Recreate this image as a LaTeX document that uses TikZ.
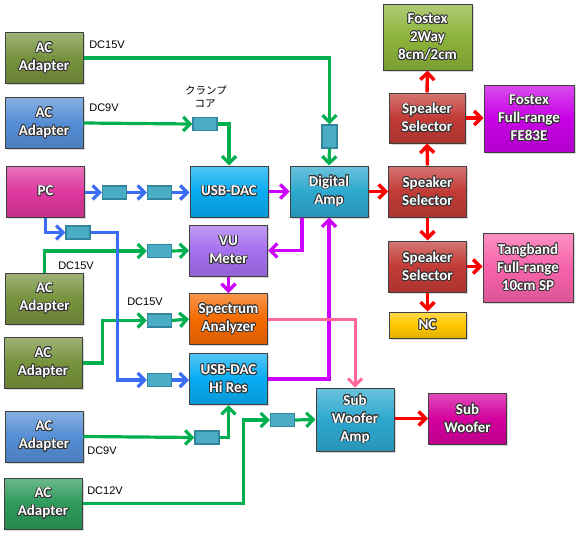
\documentclass[tikz,border=0pt]{standalone}
\usepackage{fontspec}
\setsansfont{Carlito}
\newfontfamily\labfont{Liberation Sans}
\newfontfamily\jpfont{Noto Sans CJK JP}
\usepackage{contour}
\contourlength{0.75pt}
\usetikzlibrary{arrows.meta,shadows}
\definecolor{colive}{HTML}{76923C}
\definecolor{colivel}{HTML}{8CB33A}
\definecolor{cblueac}{HTML}{558ED5}
\definecolor{cgreenac}{HTML}{2E9A5A}
\definecolor{cpc}{HTML}{DD389E}
\definecolor{cusb}{HTML}{08ACF2}
\definecolor{cdamp}{HTML}{2DA8CF}
\definecolor{cvu}{HTML}{A570EE}
\definecolor{cspec}{HTML}{F56A00}
\definecolor{csel}{HTML}{C23B36}
\definecolor{cfe}{HTML}{C800E6}
\definecolor{ctang}{HTML}{F862AA}
\definecolor{cnc}{HTML}{FFC800}
\definecolor{csw}{HTML}{D4009E}
\definecolor{ccore}{HTML}{4BACC6}
\definecolor{ccoreb}{HTML}{31859C}
\definecolor{lgreen}{HTML}{00B050}
\definecolor{lblue}{HTML}{3A6CF4}
\definecolor{lpurple}{HTML}{CC00FF}
\definecolor{lred}{HTML}{FF0000}
\definecolor{lpink}{HTML}{FF6699}
\newcommand\ot[1]{\contour{black!80}{\textcolor{white}{#1}}}
\begin{document}
\begin{tikzpicture}[x=1pt,y=-1pt,
  box/.style={draw=black!75, line width=1pt, top color=#1!70!white, bottom color=#1!88!black, middle color=#1,
    drop shadow={shadow xshift=1.5pt, shadow yshift=-1.5pt, opacity=0.3},
    inner sep=0pt, align=center, font=\sffamily\bfseries\fontsize{15}{18}\selectfont},
  std/.style={minimum width=78pt, minimum height=51pt},
  core/.style={draw=ccoreb, fill=ccore, line width=1.2pt, minimum width=24pt, minimum height=13pt, inner sep=0pt},
  tip/.style={-{Straight Barb[length=7pt,width=14pt]}},
  gl/.style={draw=lgreen, line width=3.2pt, tip},
  bl/.style={draw=lblue, line width=3.2pt, tip},
  pl/.style={draw=lpurple, line width=3.2pt, tip},
  rl/.style={draw=lred, line width=3.4pt, tip},
  kl/.style={draw=lpink, line width=3pt, tip},
  lab/.style={font=\labfont\fontsize{11}{12}\selectfont, inner sep=0pt},
  jlab/.style={font=\jpfont\fontsize{10.5}{12}\selectfont, inner sep=0pt}]
\useasboundingbox[fill=white] (0,0) rectangle (580,535);
% boxes
\node[box=colive, std] (ac1) at (44,58) {\ot{AC}\\\ot{Adapter}};
\node[box=cblueac, std] (ac2) at (44,123) {\ot{AC}\\\ot{Adapter}};
\node[box=cpc, std] (pc) at (45.5,191.5) {\ot{PC}};
\node[box=colive, std] (ac3) at (44.5,298.5) {\ot{AC}\\\ot{Adapter}};
\node[box=colive, std] (ac4) at (43,363) {\ot{AC}\\\ot{Adapter}};
\node[box=cblueac, std] (ac5) at (44,436.5) {\ot{AC}\\\ot{Adapter}};
\node[box=cgreenac, std] (ac6) at (43,503.5) {\ot{AC}\\\ot{Adapter}};
\node[box=cusb, std] (usb) at (229,191.5) {\ot{USB-DAC}};
\node[box=cvu, std] (vu) at (228.5,250.5) {\ot{VU}\\\ot{Meter}};
\node[box=cspec, std] (spec) at (228.5,319) {\ot{Spectrum}\\\ot{Analyzer}};
\node[box=cusb, std] (hires) at (228.5,379) {\ot{USB-DAC}\\\ot{Hi Res}};
\node[box=cdamp, std] (damp) at (329,191.5) {\ot{Digital}\\\ot{Amp}};
\node[box=cdamp, minimum width=78pt, minimum height=63pt] (swamp) at (355,419.5) {\ot{Sub}\\\ot{Woofer}\\\ot{Amp}};
\node[box=csw, std] (sw) at (467.5,418.5) {\ot{Sub}\\\ot{Woofer}};
\node[box=csel, minimum width=76pt, minimum height=50pt] (sel1) at (427,118) {\ot{Speaker}\\\ot{Selector}};
\node[box=csel, std] (sel2) at (427.5,191.5) {\ot{Speaker}\\\ot{Selector}};
\node[box=csel, std] (sel3) at (427.5,266.5) {\ot{Speaker}\\\ot{Selector}};
\node[box=colivel, minimum width=89pt, minimum height=65pt] (f2) at (427.5,37.5) {\ot{Fostex}\\\ot{2Way}\\\ot{8cm/2cm}};
\node[box=cfe, minimum width=90pt, minimum height=67pt] (fe) at (529,118.5) {\ot{Fostex}\\\ot{Full-range}\\\ot{FE83E}};
\node[box=ctang, minimum width=90pt, minimum height=69pt] (tang) at (528,267.5) {\ot{Tangband}\\\ot{Full-range}\\\ot{10cm SP}};
\node[box=cnc, minimum width=77pt, minimum height=26pt] (nc) at (427.5,325) {\ot{NC}};
% cores
\node[core, minimum width=15pt, minimum height=23pt] (k1) at (329.5,136.5) {};
\node[core] (k2) at (205,124) {};
\node[core] (k3) at (114.5,192.5) {};
\node[core] (k4) at (159.5,192.5) {};
\node[core] (k5) at (78,232.5) {};
\node[core] (k6) at (159.5,251) {};
\node[core] (k7) at (159.5,320.5) {};
\node[core] (k8) at (159.5,380) {};
\node[core] (k9) at (207,437.5) {};
\node[core] (k10) at (282.5,420) {};
% labels
\node[lab] (l1) at (107,45) {DC15V};
\node[lab] (l2) at (104,108) {DC9V};
\node[jlab] (l3) at (206,90) {クランプ};
\node[jlab] (l4) at (205,104) {コア};
\node[lab] (l5) at (76,266) {DC15V};
\node[lab] (l6) at (145,302) {DC15V};
\node[lab] (l7) at (102,451) {DC9V};
\node[lab] (l8) at (105,490.5) {DC12V};
% green power lines
\draw[gl] (ac1.east) -| (k1.north);
\draw[gl] (k1.south) -- (damp.north);
\draw[gl] (ac2.east) -- (k2.west);
\draw[gl] (k2.east) -| (usb.north);
\draw[gl] (ac3.north) |- (k6.west);
\draw[gl] (k6.east) -- (vu.west);
\draw[gl] (ac4.east) -- ++(20,0) |- (k7.west);
\draw[gl] (k7.east) -- (spec.west);
\draw[gl] (ac5.east) -- (k9.west);
\draw[gl] (k9.east) -| (hires.south);
\draw[gl] (ac6.east) -- ++(161,0) |- (k10.west);
\draw[gl] (k10.east) -- (swamp.west);
% blue USB lines
\draw[bl] (pc.east |- k3.west) -- (k3.west);
\draw[bl] (k3.east) -- (k4.west);
\draw[bl] (k4.east) -- (usb.west |- k4.east);
\draw[bl] (pc.south) |- (k5.west);
\draw[bl] (k5.east) -- ++(27,0) |- (k8.west);
\draw[bl] (k8.east) -- (hires.west |- k8.east);
% purple audio
\draw[pl] (usb.east) -- (damp.west);
\draw[pl] ([xshift=-27pt]damp.south) |- (vu.east);
\draw[pl] (vu.south) -- (spec.north);
\draw[pl] (hires.east) -| (damp.south);
% pink
\draw[kl] (spec.east) -| (swamp.north);
% red speaker lines
\draw[rl] (damp.east) -- (sel2.west);
\draw[rl] (sel2.north) -- (sel1.south);
\draw[rl] (sel1.north) -- (f2.south);
\draw[rl] (sel1.east) -- (fe.west |- sel1.east);
\draw[rl] (sel2.south) -- (sel3.north);
\draw[rl] (sel3.east) -- (tang.west |- sel3.east);
\draw[rl] (sel3.south) -- (nc.north);
\draw[rl] (swamp.east |- sw.west) -- (sw.west);
\end{tikzpicture}
\end{document}
